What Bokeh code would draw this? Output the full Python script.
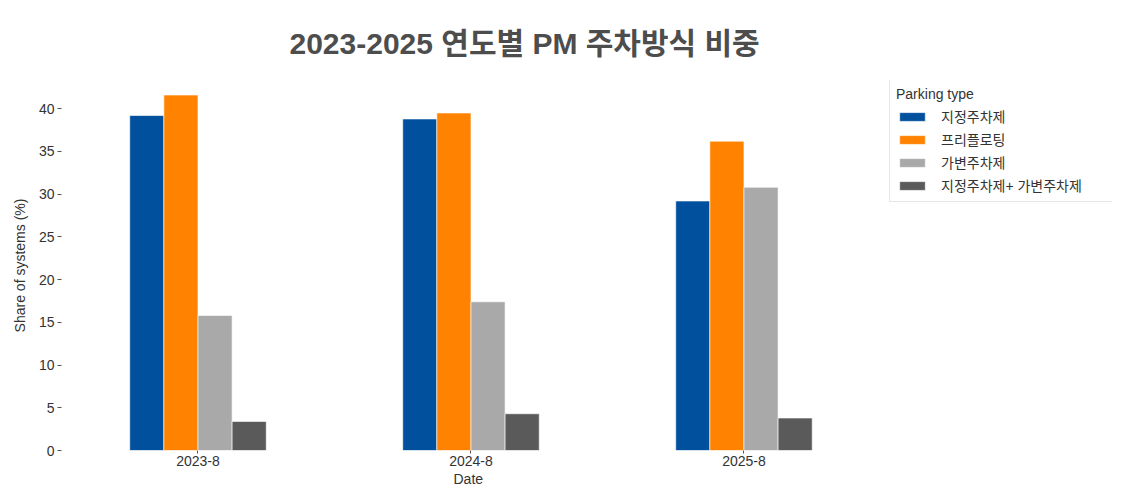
from bokeh.plotting import figure
from bokeh.models import Range1d, Legend, LegendItem, Title, ColumnDataSource, SingleIntervalTicker, FixedTicker
from bokeh.transform import dodge
from bokeh.embed import file_html
from bokeh.resources import INLINE

dates = ["2023-8", "2024-8", "2025-8"]
series_names = ["지정주차제", "프리플로팅", "가변주차제", "지정주차제+ 가변주차제"]
fixed = [39.2, 38.8, 29.2]
free_floating = [41.6, 39.5, 36.2]
variable = [15.8, 17.4, 30.8]
fixed_plus_variable = [3.4, 4.3, 3.8]
colors = ["#00509E", "#FF8200", "#A9A9A9", "#5A5A5A"]

FONT = "Liberation Sans, Arial, Noto Sans CJK KR"
TEXT_COLOR = "#333333"

p = figure(
    width=1115, height=486,
    x_range=Range1d(-0.5, 3.35),
    y_range=Range1d(0, 43.3),
    output_backend="svg", toolbar_location=None,
    min_border_left=61, min_border_top=80, min_border_right=3, min_border_bottom=35,
)

idx = list(range(len(dates)))
src = ColumnDataSource(dict(pos=idx, s0=fixed, s1=free_floating, s2=variable, s3=fixed_plus_variable))
bar_w = 0.125
offsets = [-1.5 * bar_w, -0.5 * bar_w, 0.5 * bar_w, 1.5 * bar_w]
renderers = []
for i in range(4):
    r = p.vbar(x=dodge("pos", offsets[i]), top="s%d" % i, width=bar_w,
               source=src, fill_color=colors[i], line_color="white", line_alpha=0.6, line_width=1)
    renderers.append(r)

legend = Legend(
    items=[LegendItem(label=series_names[i], renderers=[renderers[i]]) for i in range(4)],
    location=(828, 248),
    title="Parking type",
    title_text_font=FONT, title_text_font_size="14px", title_text_color=TEXT_COLOR,
    title_text_font_style="normal",
    title_standoff=4,
    label_text_font=FONT, label_text_font_size="14px", label_text_color=TEXT_COLOR,
    glyph_width=32, glyph_height=11, label_standoff=13, label_height=19, label_width=165,
    spacing=3, padding=6, margin=0,
    border_line_color="#D0D0D0", border_line_width=1,
    background_fill_alpha=1.0,
)
p.add_layout(legend, "center")

title = Title(text="2023-2025 연도별 PM 주차방식 비중", align="left", offset=228,
              text_font=FONT, text_font_size="30px", text_font_style="bold",
              text_color="#4D4D4D", standoff=37, vertical_align="top")
p.add_layout(title, "above")

p.xgrid.grid_line_color = None
p.ygrid.grid_line_color = None
p.outline_line_color = None

p.yaxis.ticker = SingleIntervalTicker(interval=5)
p.xaxis.ticker = FixedTicker(ticks=idx)
p.xaxis.major_label_overrides = {i: d for i, d in zip(idx, dates)}
p.yaxis.axis_label = "Share of systems (%)"
for ax in (p.xaxis[0], p.yaxis[0]):
    ax.axis_line_color = None
    ax.minor_tick_line_color = None
    ax.major_tick_line_color = "#555555"
    ax.major_tick_in = 0
    ax.major_tick_out = 4
    ax.major_label_text_font = FONT
    ax.major_label_text_font_size = "14px"
    ax.major_label_text_color = TEXT_COLOR
    ax.axis_label_text_font = FONT
    ax.axis_label_text_font_size = "14px"
    ax.axis_label_text_font_style = "normal"
    ax.axis_label_text_color = TEXT_COLOR
p.xaxis.major_tick_out = 3
p.xaxis.major_label_standoff = 2
p.yaxis.major_label_standoff = 3
p.yaxis.axis_label_standoff = 8

xlabel = Title(text="Date", align="left", offset=392, standoff=0,
               text_font=FONT, text_font_size="14px", text_font_style="normal",
               text_color=TEXT_COLOR)
p.add_layout(xlabel, "below")

open("out.html", "w").write(file_html(p, INLINE))
